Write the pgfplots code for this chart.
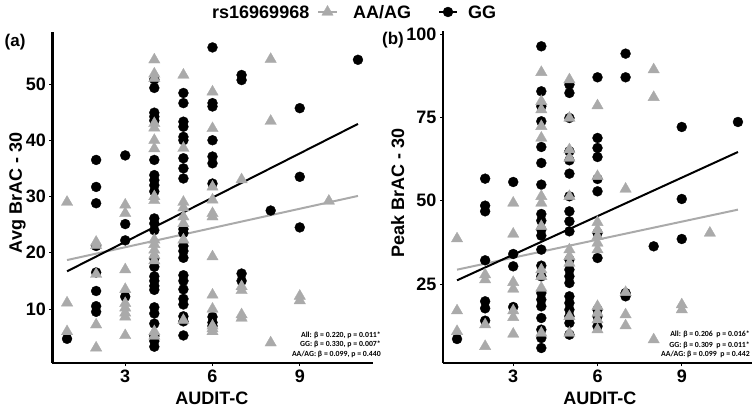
\documentclass[border=0pt]{standalone}
\usepackage{fontspec}
\setmainfont{Liberation Sans}
\newfontfamily\calib{Carlito}
\usepackage{pgfplots}
\usepackage{pgfplotstable}
\pgfplotsset{compat=1.18}
\definecolor{tri}{RGB}{170,170,170}

\pgfplotstableread{
x y
1 4.7
2 36.5
2 31.7
2 28.8
2 21.2
2 16.5
2 13.2
2 10.5
2 9.5
3 37.3
3 25.1
3 22.2
3 12.2
4 50.8
4 49.3
4 44.9
4 44.2
4 43.5
4 36.5
4 33.8
4 32.9
4 32.0
4 30.9
4 26.1
4 25.2
4 24.0
4 19.0
4 17.5
4 15.8
4 15.0
4 14.1
4 13.4
4 10.3
4 9.2
4 7.4
4 5.2
4 4.3
4 3.3
5 48.4
5 46.6
5 43.3
5 42.4
5 40.6
5 40.0
5 36.8
5 35.0
5 33.2
5 24.2
5 23.5
5 21.2
5 20.3
5 19.1
5 16.0
5 15.0
5 13.5
5 11.8
5 10.8
5 8.7
5 7.8
5 5.3
6 56.5
6 46.6
6 46.0
6 40.0
6 37.1
6 35.9
6 32.3
6 8.6
6 7.6
6 7.0
7 51.6
7 50.7
7 16.3
7 15.0
8 27.5
9 45.7
9 33.5
9 24.5
11 54.3
}\aGG

\pgfplotstableread{
x y
1 29.0
1 11.1
1 6.0
2 21.9
2 21.3
2 16.2
2 7.2
2 3.1
3 28.5
3 27.0
3 17.0
3 13.5
3 11.0
3 10.2
3 9.3
3 8.6
3 5.3
4 54.3
4 51.8
4 51.0
4 43.0
4 42.2
4 40.0
4 38.5
4 30.0
4 29.3
4 22.3
4 21.5
4 20.5
4 19.6
4 18.6
4 6.0
4 5.2
5 51.6
5 38.6
5 29.0
5 28.0
5 26.4
5 25.2
5 22.3
5 8.0
6 48.6
6 42.1
6 31.7
6 29.4
6 27.0
6 26.4
6 19.3
6 12.5
6 10.0
6 7.0
6 6.5
6 6.0
7 33.0
7 14.0
7 13.3
7 9.0
7 8.4
8 54.4
8 43.4
8 4.0
9 12.3
9 11.5
10 29.2
}\aAA

\pgfplotstableread{
x y
1 8.5
2 56.6
2 48.5
2 46.8
2 32.1
2 19.8
2 17.7
2 14.0
3 55.6
3 34.0
3 30.3
3 18.1
4 96.3
4 82.8
4 78.3
4 73.8
4 66.1
4 61.3
4 54.8
4 46.0
4 44.0
4 41.3
4 39.5
4 35.3
4 30.5
4 27.3
4 22.3
4 20.3
4 18.3
4 14.8
4 11.3
4 8.8
4 5.8
5 84.8
5 82.3
5 74.8
5 64.8
5 62.1
5 58.1
5 51.3
5 46.8
5 43.8
5 40.8
5 32.3
5 29.3
5 27.3
5 25.3
5 21.3
5 19.3
5 17.3
5 15.3
5 13.3
5 9.8
6 87.0
6 68.8
6 65.8
6 63.1
6 56.5
6 52.8
6 40.3
6 32.8
6 17.3
6 15.3
6 12.3
7 94.1
7 87.0
7 22.3
7 21.3
8 36.3
9 72.1
9 50.5
9 38.5
11 73.6
}\bGG

\pgfplotstableread{
x y
1 38.6
1 17.0
1 10.8
2 27.8
2 26.3
2 12.8
2 6.3
3 49.3
3 40.0
3 25.5
3 23.5
3 17.0
3 15.0
3 10.0
4 88.5
4 79.8
4 77.3
4 72.3
4 68.8
4 51.3
4 49.3
4 42.3
4 29.3
4 27.3
4 23.8
4 10.3
5 86.3
5 74.8
5 65.3
5 62.8
5 51.3
5 35.3
5 33.3
5 31.3
5 15.3
5 10.3
6 78.5
6 57.3
6 43.5
6 41.3
6 39.3
6 37.3
6 35.3
6 18.3
6 16.3
6 14.3
6 11.3
7 53.5
7 22.5
7 15.8
7 12.5
8 89.3
8 81.0
8 8.3
9 18.8
9 17.3
10 40.3
}\bAA

\pgfplotsset{
  ggstyle/.style={
    scale only axis, clip=false,
    axis x line*=bottom, axis y line*=left,
    axis line style={line width=2.2bp},
    tick style={line width=0.8bp, black},
    major tick length=3bp, tick align=outside,
    xmin=0.5, xmax=11.5, xtick={3,6,9},
    ticklabel style={font=\fontsize{18bp}{20bp}\selectfont\bfseries},
    /pgf/number format/assume math mode=true,
    label style={font=\fontsize{18bp}{20bp}\selectfont\bfseries},
  },
  ggpt/.style={only marks, mark=*, mark size=5bp, black, mark options={line width=0.3bp}},
  aapt/.style={only marks, mark=triangle*, mark size=6.6bp, color=tri, mark options={draw=tri, fill=tri, line width=0.3bp}},
}
\tikzset{annot/.style={anchor=base east, inner sep=0pt, font=\calib\bfseries\fontsize{7.8bp}{9bp}\selectfont}}

\begin{document}
\begin{tikzpicture}
\useasboundingbox (0bp,0bp) rectangle (756bp,409bp);
% ---------- panel (a)
\begin{axis}[ggstyle,
  at={(52.5bp,46bp)}, anchor=south west, width=320bp, height=330.6bp,
  ymin=0.4, ymax=59.17, ytick={10,20,30,40,50},
  xlabel={AUDIT-C}, ylabel={Avg BrAC - 30},
  xlabel style={at={(axis description cs:0.498,-0.106)}, anchor=center},
  ylabel style={at={(axis description cs:-0.109,0.514)}, anchor=center},
]
\addplot[ggpt] table[x=x,y=y] {\aGG};
\addplot[aapt] table[x=x,y=y] {\aAA};
\addplot[tri, line width=2bp, no marks] coordinates {(1,18.7) (11,30.1)};
\addplot[black, line width=2bp, no marks] coordinates {(1,16.7) (11,42.9)};
\node[font=\fontsize{17bp}{19bp}\selectfont\bfseries, anchor=center] at (axis description cs:-0.117,0.971) {(a)};
\node[annot] at (axis description cs:1.0266,0.0786) {All: β = 0.220, p = 0.011*};
\node[annot] at (axis description cs:1.0266,0.0484) {GG: β = 0.330, p = 0.007*};
\node[annot] at (axis description cs:1.0266,0.0182) {AA/AG: β = 0.099, p = 0.440};
\end{axis}
% ---------- panel (b)
\begin{axis}[ggstyle,
  at={(443bp,46bp)}, anchor=south west, width=309bp, height=331.7bp,
  ymin=1.3, ymax=100.8, ytick={25,50,75,100},
  xlabel={AUDIT-C}, ylabel={Peak BrAC - 30},
  xlabel style={at={(axis description cs:0.508,-0.1055)}, anchor=center},
  ylabel style={at={(axis description cs:-0.147,0.512)}, anchor=center},
]
\addplot[ggpt] table[x=x,y=y] {\bGG};
\addplot[aapt] table[x=x,y=y] {\bAA};
\addplot[tri, line width=2bp, no marks] coordinates {(1,29.3) (11,47.3)};
\addplot[black, line width=2bp, no marks] coordinates {(1,26.1) (11,64.6)};
\node[font=\fontsize{17bp}{19bp}\selectfont\bfseries, anchor=center] at (axis description cs:-0.162,0.974) {(b)};
\node[annot] at (axis description cs:0.9935,0.0784) {All: β = 0.206\ \ p = 0.016*};
\node[annot] at (axis description cs:0.9935,0.0482) {GG: β = 0.309\ \ p = 0.011*};
\node[annot] at (axis description cs:0.9935,0.0181) {AA/AG: β = 0.099\ \ p = 0.442};
\end{axis}
% ---------- legend (hidden axis in picture units)
\begin{axis}[hide axis, scale only axis, clip=false,
  at={(0bp,0bp)}, anchor=south west, width=756bp, height=409bp,
  xmin=0, xmax=756, ymin=0, ymax=409]
\addplot[tri, line width=2bp, mark=triangle*, mark size=6.6bp, mark repeat=2, mark phase=2,
  mark options={draw=tri, fill=tri, line width=0.3bp}] coordinates {(318,397) (327.5,397) (337,397)};
\addplot[black, line width=2bp, mark=*, mark size=5bp, mark repeat=2, mark phase=2,
  mark options={line width=0.3bp}] coordinates {(439,397) (448,397) (457,397)};
\node[anchor=west, inner sep=0pt, font=\fontsize{18bp}{20bp}\selectfont\bfseries] at (axis cs:212,397) {rs16969968};
\node[anchor=west, inner sep=0pt, font=\fontsize{18bp}{20bp}\selectfont\bfseries] at (axis cs:353,397) {AA/AG};
\node[anchor=west, inner sep=0pt, font=\fontsize{18bp}{20bp}\selectfont\bfseries] at (axis cs:468,397) {GG};
\end{axis}
\end{tikzpicture}
\end{document}
